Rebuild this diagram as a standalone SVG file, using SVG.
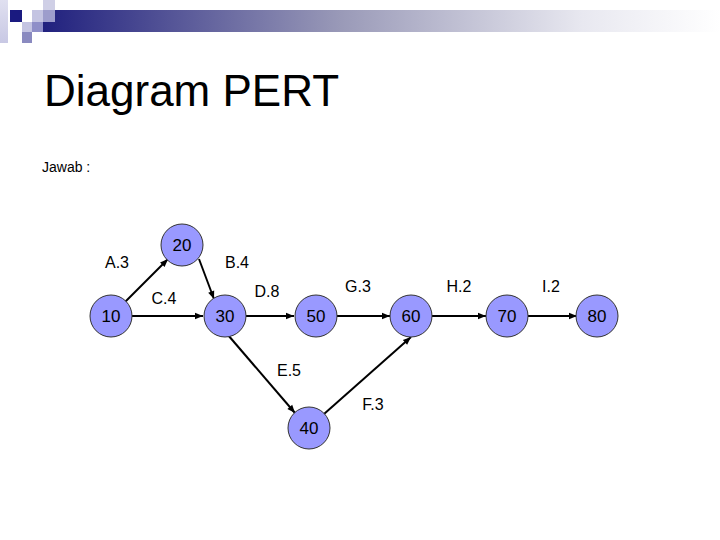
<svg xmlns="http://www.w3.org/2000/svg" width="720" height="540" viewBox="0 0 720 540">
<defs>
<linearGradient id="bar" x1="0" y1="0" x2="1" y2="0">
<stop offset="0" stop-color="#1c1c7c"/>
<stop offset="0.45" stop-color="#9a9ab8"/>
<stop offset="0.8" stop-color="#e8e8f0"/>
<stop offset="1" stop-color="#ffffff"/>
</linearGradient>
<linearGradient id="side" x1="0" y1="0" x2="0" y2="1">
<stop offset="0" stop-color="#e0e0f0"/>
<stop offset="1" stop-color="#c8c8e4"/>
</linearGradient>
<marker id="arr" viewBox="0 0 10 10" refX="10" refY="5" markerWidth="9" markerHeight="8" markerUnits="userSpaceOnUse" orient="auto">
<path d="M0,1 L10,5 L0,9 z" fill="#000"/>
</marker>
<style>
.node circle{fill:#9999ff;stroke:#333;stroke-width:1}
.node text{font-family:"Liberation Sans",Arial,sans-serif;font-size:17px;fill:#000;text-anchor:middle}
.edge{stroke:#000;stroke-width:2;fill:none;marker-end:url(#arr)}
.lbl{font-family:"Liberation Sans",Arial,sans-serif;font-size:16px;fill:#000;text-anchor:middle}
</style>
</defs>
<rect width="720" height="540" fill="#fff"/>
<g id="decoration">
<rect x="32" y="10" width="688" height="22" fill="url(#bar)"/>
<rect x="0" y="0" width="8" height="43" fill="url(#side)"/>
<rect x="10" y="10" width="12" height="12" fill="#1a1a80"/>
<rect x="43" y="0" width="12" height="10" fill="#cfcfe6"/>
<rect x="32" y="10" width="11" height="12" fill="#c4c4e2"/>
<rect x="43" y="10" width="12" height="12" fill="#9d9dcc"/>
<rect x="22" y="22" width="10" height="10" fill="#c4c4e2"/>
<rect x="32" y="22" width="11" height="10" fill="#8f8fc8"/>
<rect x="22" y="32" width="10" height="11" fill="#8a8ac0"/>
</g>
<text x="44" y="106" font-family="'Liberation Sans',Arial,sans-serif" font-size="44" fill="#000">Diagram PERT</text>
<text x="42" y="172" font-family="'Liberation Sans',Arial,sans-serif" font-size="14" fill="#000">Jawab :</text>
<g id="connectors">
<line class="edge" x1="125" y1="302" x2="168" y2="259"/>
<line class="edge" x1="199" y1="259" x2="214" y2="299"/>
<line class="edge" x1="132" y1="316" x2="203" y2="316"/>
<line class="edge" x1="246" y1="316" x2="294" y2="316"/>
<line class="edge" x1="337" y1="316" x2="390" y2="316"/>
<line class="edge" x1="432" y1="316" x2="486" y2="316"/>
<line class="edge" x1="528" y1="316" x2="577" y2="316"/>
<line class="edge" x1="228" y1="335" x2="295" y2="413"/>
<line class="edge" x1="324" y1="414" x2="411" y2="337"/>
</g>
<g id="edge-labels">
<text class="lbl" x="117" y="268">A.3</text>
<text class="lbl" x="237" y="268">B.4</text>
<text class="lbl" x="164" y="304">C.4</text>
<text class="lbl" x="267" y="297">D.8</text>
<text class="lbl" x="358" y="292">G.3</text>
<text class="lbl" x="459" y="292">H.2</text>
<text class="lbl" x="551" y="292">I.2</text>
<text class="lbl" x="289" y="376">E.5</text>
<text class="lbl" x="373" y="410">F.3</text>
</g>
<g id="n20" class="node"><circle cx="182" cy="245" r="21"/><text x="182" y="251">20</text></g>
<g id="n10" class="node"><circle cx="111" cy="316" r="21"/><text x="111" y="322">10</text></g>
<g id="n30" class="node"><circle cx="225" cy="316" r="21"/><text x="225" y="322">30</text></g>
<g id="n50" class="node"><circle cx="316" cy="316" r="21"/><text x="316" y="322">50</text></g>
<g id="n60" class="node"><circle cx="411" cy="316" r="21"/><text x="411" y="322">60</text></g>
<g id="n70" class="node"><circle cx="507" cy="316" r="21"/><text x="507" y="322">70</text></g>
<g id="n80" class="node"><circle cx="597" cy="316" r="21"/><text x="597" y="322">80</text></g>
<g id="n40" class="node"><circle cx="309" cy="428" r="21"/><text x="309" y="434">40</text></g>
</svg>
